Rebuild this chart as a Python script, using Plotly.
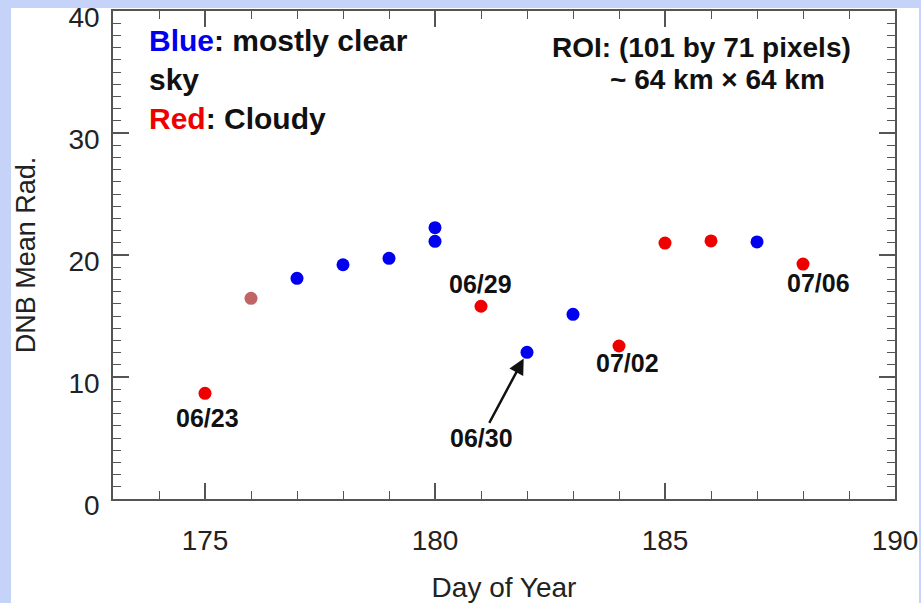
import plotly.graph_objects as go

# ---- data ----
day_of_year = [175, 176, 177, 178, 179, 180, 180, 181, 182, 183, 184, 185, 186, 187, 188]
dnb_mean_rad = [8.66, 16.45, 18.09, 19.2, 19.73, 22.24, 21.12, 15.8, 12.02, 15.14, 12.54, 20.98, 21.15, 21.07, 19.26]
sky_condition = ["cloudy", "mixed", "clear", "clear", "clear", "clear", "clear", "cloudy",
                 "clear", "clear", "cloudy", "cloudy", "cloudy", "clear", "cloudy"]

condition_colors = {"clear": "#0000ee", "cloudy": "#ee0000", "mixed": "#c06464"}

date_label_days = [175, 181, 184, 188]
date_label_texts = ["06/23", "06/29", "07/02", "07/06"]
arrow_label_day = 182
arrow_label_text = "06/30"

x_ticks = [175, 180, 185, 190]
y_ticks = [0, 10, 20, 30, 40]

FONT = "Liberation Sans, Arial, sans-serif"

fig = go.Figure()
fig.add_trace(go.Scatter(
    x=day_of_year, y=dnb_mean_rad, mode="markers",
    marker=dict(size=13, color=[condition_colors[c] for c in sky_condition], line=dict(width=0)),
    showlegend=False, hoverinfo="x+y",
))

def value_for(day, pick=0):
    idx = [i for i, d in enumerate(day_of_year) if d == day]
    return dnb_mean_rad[idx[pick]]

shifts = {"06/23": (2, -25), "06/29": (-1, 22), "07/02": (8, -17), "07/06": (15, -19)}
annotations = []
for d, t in zip(date_label_days, date_label_texts):
    xs, ys = shifts[t]
    annotations.append(dict(
        x=d, y=value_for(d), xref="x", yref="y", text="<b>" + t + "</b>", showarrow=False,
        xshift=xs, yshift=ys, font=dict(family=FONT, size=25, color="#111"),
        xanchor="center", yanchor="middle",
    ))

annotations.append(dict(
    x=arrow_label_day, y=value_for(arrow_label_day), xref="x", yref="y",
    text="<b>" + arrow_label_text + "</b>", showarrow=True, ax=-46, ay=86,
    arrowhead=2, arrowsize=1.3, arrowwidth=2.4, arrowcolor="#111", standoff=7,
    font=dict(family=FONT, size=25, color="#111"),
))

annotations.append(dict(
    x=0.0435, y=0.978, xref="paper", yref="paper", xanchor="left", yanchor="top",
    align="left", showarrow=False,
    text="<b><span style='color:#0000ee'>Blue</span>: mostly clear<br>sky<br>"
         "<span style='color:#ee0000'>Red</span>: Cloudy</b>",
    font=dict(family=FONT, size=30, color="#111"),
))
annotations.append(dict(
    x=0.752, y=0.926, xref="paper", yref="paper", xanchor="center", yanchor="middle",
    showarrow=False, text="<b>ROI: (101 by 71 pixels)</b>",
    font=dict(family=FONT, size=28, color="#111"),
))
annotations.append(dict(
    x=0.773, y=0.859, xref="paper", yref="paper", xanchor="center", yanchor="middle",
    showarrow=False, text="<b>~ 64 km × 64 km</b>",
    font=dict(family=FONT, size=28, color="#111"),
))

axis_common = dict(
    showline=True, linecolor="#555", linewidth=1.5, mirror="allticks",
    ticks="inside", ticklen=16, tickwidth=1.5, tickcolor="#555",
    showgrid=False, zeroline=False, ticklabeloverflow="allow",
    tickfont=dict(family=FONT, size=28, color="#222"),
    minor=dict(ticks="inside", ticklen=8, tickwidth=1.2, tickcolor="#555", dtick=1, showgrid=False),
)

fig.update_layout(
    width=921, height=603,
    margin=dict(l=113, r=26, t=11, b=104, autoexpand=False),
    paper_bgcolor="#c6d3f8", plot_bgcolor="white",
    xaxis=dict(range=[173, 190], tickvals=x_ticks, ticktext=[str(v) for v in x_ticks],
               ticklabelstandoff=16,
               title=dict(text="Day of Year", font=dict(family=FONT, size=28, color="#222"), standoff=24),
               **axis_common),
    yaxis=dict(range=[0, 40], tickvals=y_ticks, ticktext=[str(v) for v in y_ticks],
               ticklabelstandoff=6, ticklabelshift=6,
               title=dict(text="DNB Mean Rad.", font=dict(family=FONT, size=27, color="#222"), standoff=25),
               **axis_common),
    annotations=annotations,
    shapes=[dict(type="rect", xref="paper", yref="paper", x0=-0.1304, x1=1.0307, y0=-0.25, y1=1.006,
                 fillcolor="white", line=dict(width=0), layer="below")],
)

fig.write_html("out.html", config={"displayModeBar": False},
               post_script="document.body.style.margin='0';document.body.style.overflow='hidden';")
